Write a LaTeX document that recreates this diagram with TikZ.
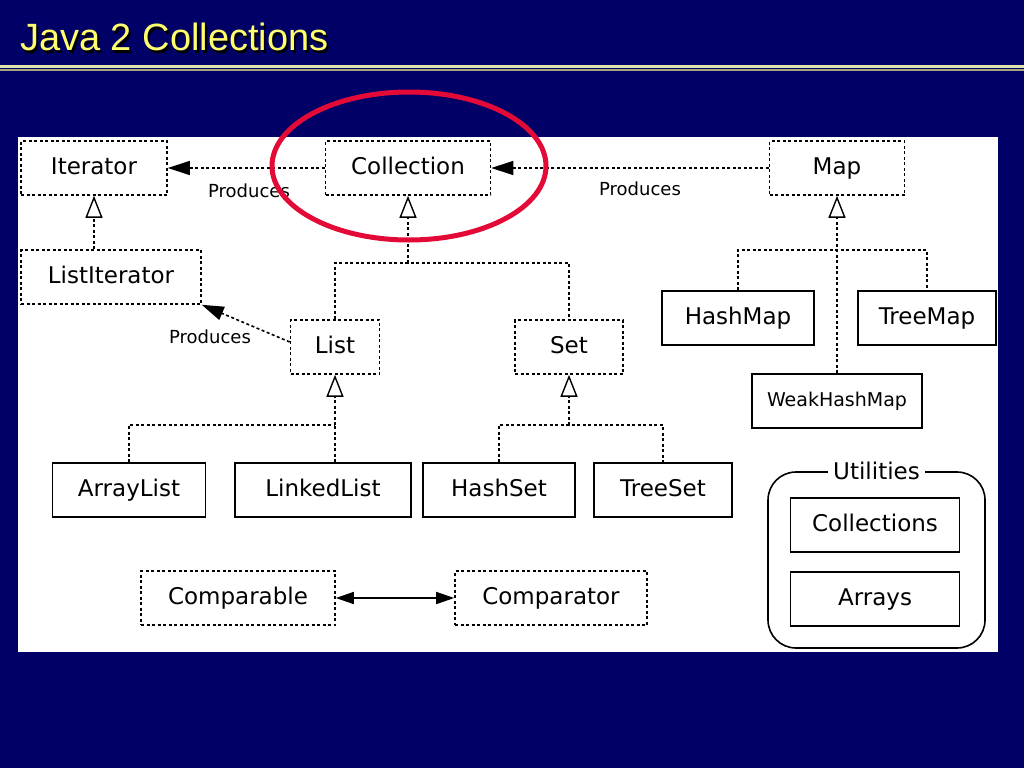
\documentclass[tikz,border=0pt]{standalone}
\usepackage{fontspec}
\setmainfont{DejaVu Sans}
\newfontfamily\titlefont{Liberation Sans}
\usepackage{xcolor}
\definecolor{slidenavy}{RGB}{0,0,102}
\definecolor{titleyellow}{RGB}{255,255,110}
\definecolor{rulelight}{RGB}{225,225,175}
\definecolor{ruledark}{RGB}{165,165,125}
\definecolor{ringred}{RGB}{228,10,55}
\usepackage{tikz}
\usetikzlibrary{positioning}
\usetikzlibrary{arrows.meta}
\tikzset{
  iface/.style={draw,dash pattern=on 3pt off 2.5pt,line width=1.6pt,minimum height=54pt,inner sep=0pt,text height=17pt,text depth=5pt,font=\fontsize{23}{26}\selectfont},
  impl/.style={draw,line width=1.8pt,minimum height=54pt,inner sep=0pt,text height=17pt,text depth=5pt,font=\fontsize{23}{26}\selectfont},
  dots/.style={dash pattern=on 3pt off 2.5pt,line width=1.6pt},
  produces/.style={inner sep=0pt,font=\fontsize{18}{20}\selectfont},
  isa/.tip={Triangle[length=22pt,width=17pt,fill=white,line width=1.4pt]},
  makes/.tip={Triangle[length=22pt,width=14pt]},
  pairs/.tip={Triangle[length=18pt,width=12pt]}
}

\begin{document}
\begin{tikzpicture}[x=1pt,y=-1pt]
\fill[slidenavy] (0,0) rectangle (1024,768);
\useasboundingbox (0,0) rectangle (1024,768);
\node (titleshadow) [anchor=base west,inner sep=0pt,text=black,font=\titlefont\fontsize{38}{40}\selectfont] at (22,53) {Java 2 Collections};
\node (title) [anchor=base west,inner sep=0pt,text=titleyellow,font=\titlefont\fontsize{38}{40}\selectfont] at (20,51) {Java 2 Collections};
\fill[rulelight] (0,65) rectangle (1024,67.5);
\fill[ruledark] (0,68.5) rectangle (1024,70.5);
\fill[white] (18,137) rectangle (998,652);
% interfaces
\node (iter) [iface,minimum width=146pt] at (94,168) {Iterator};
\node (coll) [iface,minimum width=165pt] at (408,168) {Collection};
\node (map) [iface,minimum width=135pt] at (837,168) {Map};
\node (listiter) [iface,minimum width=180pt] at (111,277) {ListIterator};
\node (list) [iface,minimum width=89pt] at (335,347) {List};
\node (set) [iface,minimum width=108pt] at (569,347) {Set};
\node (comparable) [iface,minimum width=194pt] at (238,598) {Comparable};
\node (comparator) [iface,minimum width=192pt] at (551,598) {Comparator};
% classes
\node (hashmap) [impl,minimum width=152pt] at (738,318) {HashMap};
\node (treemap) [impl,minimum width=138pt] at (927,318) {TreeMap};
\node (weakhashmap) [impl,minimum width=170pt,text height=14pt,text depth=4pt,font=\fontsize{19}{22}\selectfont] at (837,401) {WeakHashMap};
\node (arraylist) [impl,minimum width=153pt] at (129,490) {ArrayList};
\node (linkedlist) [impl,minimum width=176pt] at (323,490) {LinkedList};
\node (hashset) [impl,minimum width=152pt] at (499,490) {HashSet};
\node (treeset) [impl,minimum width=138pt] at (663,490) {TreeSet};
% utilities
\node (utilities) [draw,line width=1.6pt,rounded corners=28pt,minimum width=217pt,minimum height=176pt] at (876.5,560) {};
\node (utillabel) [fill=white,inner sep=5pt,font=\fontsize{23}{26}\selectfont] at (utilities.north) {Utilities};
\node (collections) [impl,minimum width=169pt] at (875,525) {Collections};
\node (arrays) [impl,minimum width=169pt] at (875,599) {Arrays};
% joins
\coordinate (colljoin) at (408,263);
\coordinate (listjoin) at (335,425);
\coordinate (setjoin) at (569,425);
\coordinate (mapjoin) at (837,250);
% produces
\draw[dots,-{makes}] (coll.west) -- (iter.east);
\draw[dots,-{makes}] (map.west) -- (coll.east);
\draw[dots,-{makes}] ([yshift=5pt]list.west) -- (listiter.south east);
\node (prodleft) [produces] at (249,191) {Produces};
\node (prodright) [produces] at (640,189) {Produces};
\node (prodlist) [produces] at (210,337) {Produces};
% inheritance
\draw[dots,-{isa}] (iter.south |- listiter.north) -- (iter.south);
\draw[dots] (list.north) |- (colljoin) -| (set.north);
\draw[dots,-{isa}] (colljoin) -- (coll.south);
\draw[dots] (arraylist.north) |- (listjoin);
\draw[dots] (linkedlist.north -| listjoin) -- (listjoin);
\draw[dots,-{isa}] (listjoin) -- (list.south);
\draw[dots] (hashset.north) |- (setjoin) -| (treeset.north);
\draw[dots,-{isa}] (setjoin) -- (set.south);
\draw[dots] (hashmap.north) |- (mapjoin) -| (treemap.north);
\draw[dots,-{isa}] (weakhashmap.north) -- (map.south);
% compare
\draw[line width=1.6pt,{pairs}-{pairs}] (comparable.east) -- (comparator.west);
% highlight
\draw[ringred,line width=5pt] (409,166) ellipse [x radius=137pt,y radius=74pt];
\end{tikzpicture}
\end{document}
